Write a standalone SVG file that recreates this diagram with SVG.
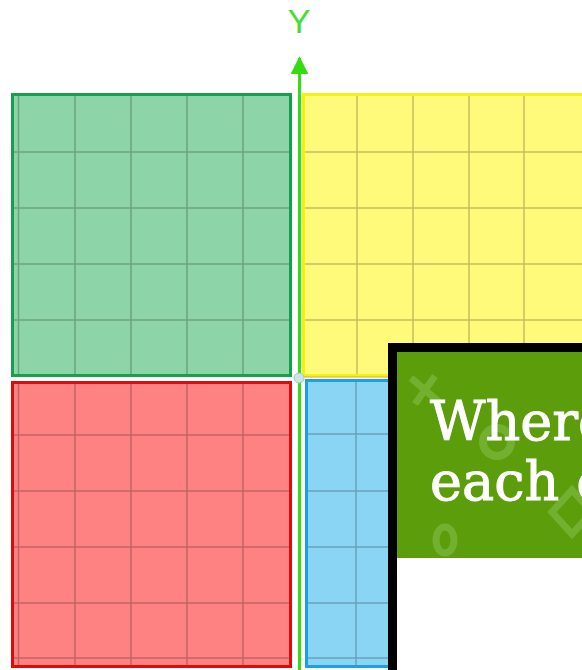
<svg xmlns="http://www.w3.org/2000/svg" width="582" height="670" viewBox="0 0 582 670">
<style>
.grid{stroke:#000;stroke-opacity:0.24;stroke-width:1.5;fill:none}
.q{stroke-width:3}
.deco{fill:none;stroke:#8cc456;stroke-opacity:0.5}
.title{font-family:"DejaVu Serif","Liberation Serif",serif;font-size:54px;fill:#ffffff;stroke:#ffffff;stroke-width:1}
</style>
<defs>
<marker id="arr" viewBox="0 0 10 10" refX="9" refY="5" markerWidth="6" markerHeight="6" orient="auto"><path d="M0,0 L10,5 L0,10 z" fill="#33dd11"/></marker>
</defs>
<rect width="582" height="670" fill="#ffffff"/>
<g id="q2">
<rect class="q" x="12.5" y="94.5" width="278" height="281" fill="#8dd5a9" stroke="#17a04c"/>
<path class="grid" d="M18.5,96V374M75,96V374M131,96V374M187,96V374M243,96V374M14,152H289M14,208H289M14,264H289M14,320H289"/>
</g>
<g id="q1">
<rect class="q" x="303.5" y="94.5" width="290" height="281" fill="#fffa7a" stroke="#f6ef10"/>
<path class="grid" d="M357,96V374M413,96V374M469,96V374M524,96V374M305,152H582M305,208H582M305,264H582M305,320H582"/>
<line x1="304" y1="377" x2="582" y2="377" stroke="#d8b000" stroke-width="1.5" stroke-opacity="0.6"/>
</g>
<g id="q3">
<rect class="q" x="12.5" y="382.5" width="278" height="284" fill="#ff8282" stroke="#e00a0a"/>
<path class="grid" d="M18.5,384V665M75,384V665M131,384V665M187,384V665M243,384V665M14,435H289M14,491H289M14,547H289M14,603H289M14,658H289"/>
</g>
<g id="q4">
<rect class="q" x="306.5" y="380.5" width="290" height="286" fill="#8ad5f3" stroke="#1aa2de"/>
<path class="grid" d="M356,382V665M412,382V665M308,434H582M308,491H582M308,547H582M308,603H582M308,658H582"/>
</g>
<g id="connectors">
<line x1="299.5" y1="670" x2="299.5" y2="58" stroke="#33dd11" stroke-width="3" marker-end="url(#arr)"/>
</g>
<g id="y-label">
<text x="299" y="33" text-anchor="middle" font-family="Liberation Sans, Arial, sans-serif" font-size="34" fill="#44dd33">Y</text>
</g>
<g id="origin">
<circle cx="299" cy="378" r="5" fill="#c9e6e6" stroke="#9fc4c4" stroke-width="1"/>
</g>
<g id="panel">
<rect x="388" y="343" width="200" height="330" fill="#000000"/>
<rect x="397" y="352" width="190" height="206" fill="#5b9d0b"/>
<rect x="397" y="558" width="190" height="115" fill="#ffffff"/>
<g class="deco">
<path d="M411,378L439,402M435,376L415,404" stroke-width="7"/>
<circle cx="497" cy="442" r="14" stroke-width="8"/>
<ellipse cx="445" cy="540" rx="9" ry="13" stroke-width="7"/>
<path d="M572,490L592,512L572,534L552,512Z" stroke-width="7"/>
</g>
<text class="title" x="430" y="440">Where</text>
<text class="title" x="430" y="500">each of</text>
</g>
</svg>
